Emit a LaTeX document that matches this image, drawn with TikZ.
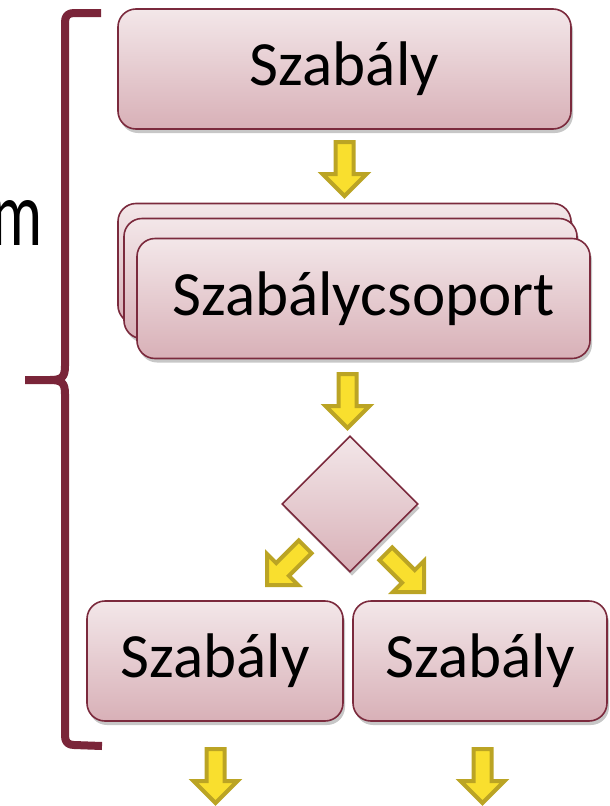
\documentclass[tikz,border=0pt]{standalone}
\usepackage{fontspec}
\setmainfont{Carlito}
\usetikzlibrary{shapes.geometric,shadows}
\definecolor{boxborder}{HTML}{7B2A3D}
\definecolor{boxtop}{HTML}{F3E7E9}
\definecolor{boxbot}{HTML}{D8B0B7}
\definecolor{bracecol}{HTML}{7A2539}
\definecolor{yfillc}{HTML}{F9DF2E}
\definecolor{ydrawc}{HTML}{BBA424}
\tikzset{
  box/.style={draw=boxborder, line width=1.6pt, rounded corners=18pt,
    top color=boxtop, bottom color=boxbot, minimum height=120pt,
    inner sep=0pt, font=\fontsize{63}{70}\selectfont,
    drop shadow={shadow xshift=2pt, shadow yshift=-4pt, opacity=0.22, fill=black}},
  decision/.style={diamond, aspect=1, draw=boxborder, line width=1.6pt,
    top color=boxtop, bottom color=boxbot, minimum width=136pt, minimum height=136pt,
    inner sep=0pt,
    drop shadow={shadow xshift=2pt, shadow yshift=-4pt, opacity=0.22, fill=black}},
  yarrowstyle/.style={fill=yfillc, draw=ydrawc, line width=4pt, line join=miter},
  yarrow/.pic={\draw[yarrowstyle] (-9,-54)--(9,-54)--(9,-22)--(22,-22)--(0,0)--(-22,-22)--(-9,-22)--cycle;},
  bracestyle/.style={draw=bracecol, line width=8pt, line cap=butt, line join=round}
}
\begin{document}
\begin{tikzpicture}[x=1pt,y=-1pt]
\useasboundingbox (0,0) rectangle (610,806);
% partial text
\node[anchor=base east, inner sep=0pt, font=\fontsize{64}{70}\selectfont] (mtext) at (43,245) {\scalebox{1}[1.45]{m}};
% brace
\coordinate (bracetip) at (25,380);
\draw[bracestyle] (101,13) -- (74,13) .. controls (68,13) and (65,16) .. (65,22) -- (65,366)
   .. controls (65,377) and (62,380) .. (50,380) -- (bracetip);
\draw[bracestyle] (50,380) .. controls (62,380) and (65,383) .. (65,394) -- (65,736)
   .. controls (65,742) and (68,745) .. (74,745) -- (102,746);
% boxes
\node[box, minimum width=453pt] (rule1) at (344.5,69) {Szabály};
\node[box, minimum width=453pt] (grpA) at (344.5,263.5) {};
\node[box, minimum width=453pt] (grpB) at (350.5,278.5) {};
\node[box, minimum width=453pt] (grp) at (363.5,298.5) {Szabálycsoport};
\node[decision] (dec) at (350,504) {};
\node[box, minimum width=256pt] (ruleL) at (215,661) {Szabály};
\node[box, minimum width=254pt] (ruleR) at (480,661) {Szabály};
% arrows
\pic at (344.5,196) {yarrow};
\pic at (347.5,428) {yarrow};
\pic[rotate=-45] at (267,585) {yarrow};
\pic[rotate=45] at (424,592) {yarrow};
\pic at (215.5,803) {yarrow};
\pic at (482.5,803) {yarrow};
\end{tikzpicture}
\end{document}
